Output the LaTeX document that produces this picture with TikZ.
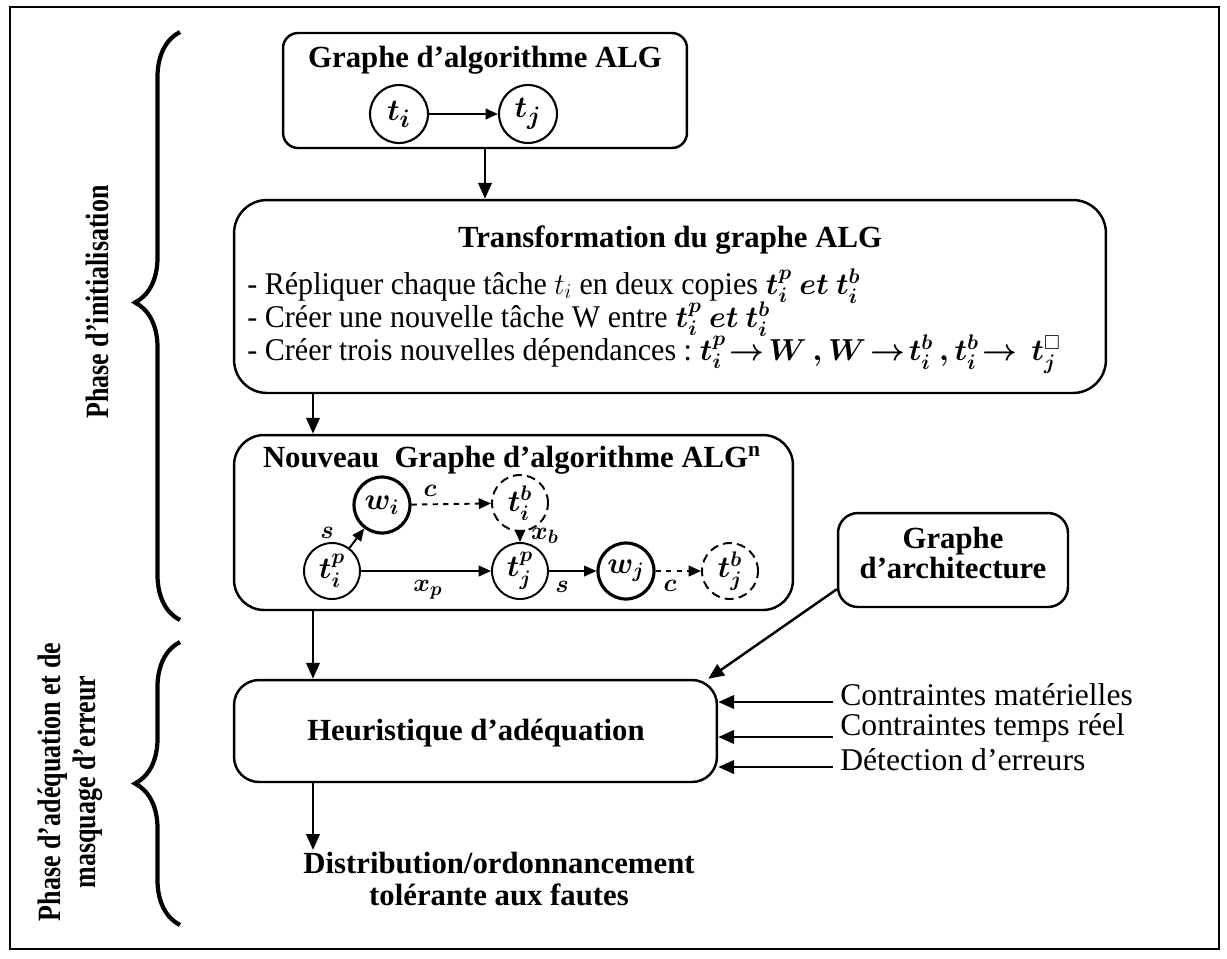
\documentclass[tikz,border=0pt]{standalone}
\usepackage{amsmath,amssymb}
\usepackage{fontspec}
\setmainfont{Liberation Serif}
\usetikzlibrary{arrows.meta,decorations.pathreplacing,calc}

\tikzset{
  blk/.style={draw, line width=1.4pt, inner sep=0pt},
  ttl/.style={font=\fontsize{17.5}{18}\selectfont\bfseries, inner sep=0pt},
  txt/.style={font=\fontsize{18}{20}\selectfont, inner sep=0pt, anchor=west},
  task/.style={circle, draw, line width=1.1pt, minimum size=1.12cm, inner sep=0pt,
               font=\fontsize{17}{18}\selectfont\boldmath},
  wtask/.style={task, line width=1.8pt},
  btask/.style={task, dash pattern=on 5pt off 3pt},
  flow/.style={-{Triangle[length=9pt,width=7.5pt]}, line width=1.6pt},
  gedge/.style={-{Triangle[length=7pt,width=6pt]}, line width=1.1pt},
  elab/.style={font=\fontsize{15}{16}\selectfont\boldmath, inner sep=0pt},
  lbl/.style={font=\fontsize{18}{20}\selectfont, inner sep=0pt, anchor=west},
  side/.style={font=\fontsize{18.5}{20}\selectfont\bfseries, inner sep=0pt, rotate=90, align=center},
  brc/.style={decorate, decoration={brace, amplitude=0.9cm, aspect=#1}, line width=2.4pt},
}
\newcommand{\narrow}[1]{\scalebox{0.8}[1]{#1}}
\newcommand{\slim}[1]{\scalebox{0.95}[1]{#1}}
\newcommand{\ra}{\mathrel{\mkern-3mu\rightarrow\mkern-3mu}}
\newcommand{\mth}[1]{{\fontsize{16.5}{18}\selectfont\boldmath$#1$}}

\begin{document}
\begin{tikzpicture}[x=0.02cm, y=-0.02cm]
\useasboundingbox (0,0) rectangle (1227,958);
\draw[line width=1pt] (10,7) rectangle (1219,949);

% phase braces and their labels
\draw[brc=0.54] (180,620) -- (180,32);
\draw[brc=0.5] (180,925) -- (180,642);
\node[side] (ph1) at (97,302) {\narrow{Phase d’initialisation}};
\node[side] (ph2) at (70,782) {\narrow{Phase d’adéquation et de}\\\narrow{masquage d’erreur}};

% algorithm graph
\node[blk, rounded corners=0.3cm, minimum width=8.08cm, minimum height=2.3cm] (alg) at (485,90.5) {};
\node[ttl] (algT) at (485,60) {Graphe d’algorithme ALG};
\node[task, minimum size=1.16cm, line width=1.2pt, font=\fontsize{19}{20}\selectfont\boldmath] (ti) at (399,114) {$t_i$};
\node[task, minimum size=1.16cm, line width=1.2pt, font=\fontsize{19}{20}\selectfont\boldmath] (tj) at (528,114) {$t_j$};
\draw[gedge, line width=1.3pt] (ti) -- (tj);

% transformation
\node[blk, rounded corners=0.66cm, minimum width=17.44cm, minimum height=3.86cm] (trf) at (670,296.5) {};
\node[ttl] (trfT) at (670,240) {Transformation du graphe ALG};
\node[txt] (l1) at (247,286) {\slim{- Répliquer chaque tâche $t_i$ en deux copies} \mth{t_i^p\ et\ t_i^b}};
\node[txt] (l2) at (247,319) {\slim{- Créer une nouvelle tâche W entre} \mth{t_i^p\ et\ t_i^b}};
\node[txt] (l3) at (247,354) {\slim{- Créer trois nouvelles dépendances :} \mth{t_i^p\ra W\,,W\ra t_i^b\,,t_i^b\ra\;t_j^{\square}}};

% new algorithm graph
\node[blk, rounded corners=0.6cm, minimum width=11.18cm, minimum height=3.5cm] (nalg) at (513.5,522.5) {};
\node[ttl] (nalgT) at (512,460) {Nouveau\ \ Graphe d’algorithme ALG\textsuperscript{n}};
\node[task] (tip) at (332,571) {$t_i^p$};
\node[wtask] (wi) at (382,505) {$w_i$};
\node[btask] (tib) at (520,503) {$t_i^b$};
\node[task] (tjp) at (520,571) {$t_j^p$};
\node[wtask] (wj) at (626,571) {$w_j$};
\node[btask] (tjb) at (730,571) {$t_j^b$};
\draw[gedge] (tip) -- (wi);
\draw[gedge, dashed] (wi) -- (tib);
\draw[gedge, dashed] (tib) -- (tjp);
\draw[gedge] (tip) -- (tjp);
\draw[gedge] (tjp) -- (wj);
\draw[gedge, dashed] (wj) -- (tjb);
\node[elab] (ls1) at (327,533) {$s$};
\node[elab] (lc1) at (430,491) {$c$};
\node[elab] (lxb) at (545,536) {$x_b$};
\node[elab] (lxp) at (428,590) {$x_p$};
\node[elab] (ls2) at (562,587) {$s$};
\node[elab] (lc2) at (670,586) {$c$};

% architecture graph
\node[blk, rounded corners=0.4cm, minimum width=4.6cm, minimum height=1.88cm] (arch) at (953,560) {};
\node[ttl, align=center] (archT) at (953,553) {Graphe\\[-1pt]d’architecture};

% mapping heuristic
\node[blk, rounded corners=0.5cm, minimum width=9.66cm, minimum height=2.04cm] (heur) at (475.5,731) {};
\node[ttl] (heurT) at (476,733) {Heuristique d’adéquation};

\node[lbl] (cm) at (840,695) {Contraintes matérielles};
\node[lbl] (ct) at (840,728) {Contraintes temps réel};
\node[lbl] (de) at (840,760) {Détection d’erreurs};

\node[ttl, align=center] (dist) at (499,879) {Distribution/ordonnancement\\[0pt]tolérante aux fautes};

% flow arrows
\coordinate (colx) at (313,0);
\coordinate (dend) at (313,850);
\draw[flow] (alg.south) -- (trf.north -| alg.south);
\draw[flow] (trf.south -| colx) -- (nalg.north -| colx);
\draw[flow] (nalg.south -| colx) -- (heur.north -| colx);
\draw[flow] (heur.south -| colx) -- (dend);
\draw[flow, line width=1.4pt] ($(arch.south west)+(0,-19)$) -- ($(heur.north east)+(-10,0)$);
\coordinate (in1) at (833,702);
\coordinate (in2) at (833,737);
\coordinate (in3) at (833,767);
\draw[flow] (in1) -- (in1 -| heur.east);
\draw[flow] (in2) -- (in2 -| heur.east);
\draw[flow] (in3) -- (in3 -| heur.east);
\end{tikzpicture}
\end{document}
